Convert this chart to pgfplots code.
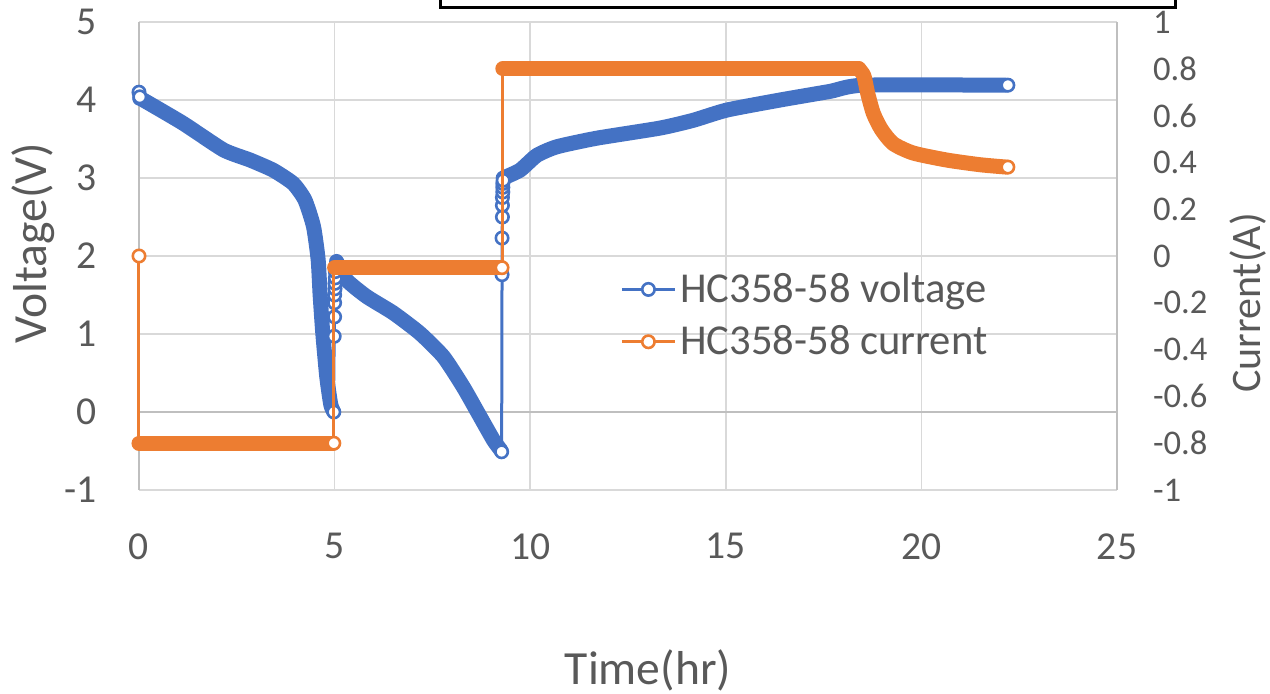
\documentclass[border=0pt]{standalone}
\usepackage{pgfplots}
\pgfplotsset{compat=1.18}
\usepackage{fontspec}
\setmainfont{Carlito}
\definecolor{vblue}{HTML}{4472C4}
\definecolor{corange}{HTML}{ED7D31}
\definecolor{tgray}{HTML}{595959}
\definecolor{ggray}{HTML}{D9D9D9}
\definecolor{agray}{HTML}{BFBFBF}
\pgfplotsset{
  thickband/.style={line width=7.5pt, line cap=round, line join=round, no marks},
  thinline/.style={line width=1.5pt, line join=round, no marks},
  vmarks/.style={only marks, mark=*, mark size=3.1pt, mark options={fill=white, draw=vblue, line width=1.3pt}},
  cmarks/.style={only marks, mark=*, mark size=3.1pt, mark options={fill=white, draw=corange, line width=1.3pt}},
}
\begin{document}
\begin{tikzpicture}
\begin{axis}[
  at={(0,0)}, anchor=south west,
  scale only axis, width=489pt, height=234pt,
  xmin=0, xmax=25, ymin=-1, ymax=5,
  xtick={0,5,10,15,20,25}, xticklabels={0,5,10,15,20,25},
  ytick={-1,0,1,2,3,4,5}, yticklabels={-1,0,1,2,3,4,5},
  grid=major, grid style={ggray, line width=0.75pt},
  axis line style={draw=none}, tick style={draw=none}, major tick length=0pt,
  xticklabel style={font=\fontsize{19.8}{20}\selectfont, text=tgray, anchor=north, inner sep=0pt, yshift=-21.5pt},
  yticklabel style={font=\fontsize{19.8}{20}\selectfont, text=tgray, anchor=east, inner sep=0pt, xshift=-21pt},
  clip=false,
]
\draw[agray, line width=0.75pt] (axis cs:0,-1) -- (axis cs:0,5);
\draw[agray, line width=0.75pt] (axis cs:0,0) -- (axis cs:25,0);
\draw[agray, line width=0.75pt] (axis cs:25,-1) -- (axis cs:25,5);
% thin connecting lines where the points are sparse (voltage)
\addplot[vblue, thinline] coordinates {
(4.97,0.0) (4.99,0.97) (5.0,1.22) (5.0,1.40) (5.01,1.60) (5.03,1.85) (5.05,1.95)};
\addplot[vblue, thinline] coordinates {
(9.27,-0.51) (9.28,1.76) (9.28,2.23) (9.29,2.50) (9.3,2.80) (9.31,3.02)};
% dense parts (voltage)
\addplot[vblue, thickband, smooth, tension=0.35] coordinates {
(0.02,4.02) (0.11,4.00) (1.13,3.70) (2.16,3.36) (2.84,3.23) (3.43,3.10) (3.94,2.93) (4.24,2.72)
(4.46,2.38) (4.58,1.95) (4.63,1.50) (4.70,1.00) (4.80,0.45) (4.90,0.10) (4.96,0.02)};
\addplot[vblue, thickband, smooth, tension=0.35] coordinates {
(5.05,1.93) (5.31,1.69) (5.82,1.48) (6.50,1.27) (7.18,1.01) (7.78,0.71) (8.29,0.32) (8.72,-0.06)
(9.06,-0.36) (9.25,-0.49)};
\addplot[vblue, thickband, smooth, tension=0.35] coordinates {
(9.31,3.00) (9.74,3.10) (10.17,3.29) (10.68,3.40) (11.70,3.51) (13.32,3.64) (14.17,3.74) (15.02,3.87)
(16.39,4.00) (17.66,4.11) (18.52,4.19) (22.15,4.19)};
\addplot[vblue, vmarks] coordinates {
(0,4.10) (0.02,4.04) (4.98,0.0) (4.99,0.97) (5.0,1.22) (5.0,1.40) (5.0,1.50) (5.01,1.58) (5.01,1.65)
(5.02,1.72) (5.02,1.80) (5.03,1.86)
(9.27,-0.51) (9.28,1.76) (9.28,2.23) (9.29,2.50) (9.29,2.65) (9.29,2.75) (9.3,2.82) (9.3,2.88)
(9.3,2.93) (9.31,2.97) (22.21,4.19)};
\end{axis}
\begin{axis}[
  at={(0,0)}, anchor=south west,
  scale only axis, width=489pt, height=234pt,
  xmin=0, xmax=25, ymin=-1, ymax=1,
  axis x line=none, axis y line*=right,
  ytick={-1,-0.8,-0.6,-0.4,-0.2,0,0.2,0.4,0.6,0.8,1},
  yticklabels={-1,-0.8,-0.6,-0.4,-0.2,0,0.2,0.4,0.6,0.8,1},
  axis line style={draw=none}, tick style={draw=none}, major tick length=0pt,
  yticklabel style={font=\fontsize{17.3}{18}\selectfont, text=tgray, anchor=west, inner sep=0pt, xshift=17.8pt},
  clip=false,
  legend style={at={(0.4857,0.3729)}, anchor=west, draw=none, fill=none,
    font=\fontsize{21.3}{22}\selectfont, text=tgray, row sep=6pt},
  legend cell align=left,
  legend image code/.code={\draw[mark repeat=2,mark phase=2,#1] plot coordinates {(0pt,0pt) (13.25pt,0pt) (26.5pt,0pt)};},
]
\addlegendimage{vblue, line width=1.5pt, mark=*, mark size=3.1pt, mark options={fill=white, draw=vblue, line width=1.3pt}}
\addlegendentry{HC358-58 voltage}
\addlegendimage{corange, line width=1.5pt, mark=*, mark size=3.1pt, mark options={fill=white, draw=corange, line width=1.3pt}}
\addlegendentry{HC358-58 current}
\addplot[corange, thinline, forget plot] coordinates {(0,0) (0,-0.8)};
\addplot[corange, thinline, forget plot] coordinates {(4.98,-0.8) (4.98,-0.05)};
\addplot[corange, thinline, forget plot] coordinates {(9.28,-0.05) (9.28,0.8)};
\addplot[corange, thickband, forget plot] coordinates {(0,-0.8) (4.96,-0.8)};
\addplot[corange, thickband, forget plot] coordinates {(5.0,-0.05) (9.26,-0.05)};
\addplot[corange, thickband, forget plot] coordinates {(9.3,0.8) (18.40,0.8)};
\addplot[corange, thickband, smooth, tension=0.4, forget plot] coordinates {
(18.40,0.80) (18.53,0.77) (18.62,0.70) (18.77,0.61) (18.98,0.54) (19.28,0.48) (19.79,0.44)
(20.65,0.41) (21.5,0.39) (22.17,0.38)};
\addplot[corange, cmarks, forget plot] coordinates {(0,0) (4.98,-0.8) (9.28,-0.05) (22.21,0.38)};
\end{axis}
\draw[black, line width=1.5pt] (150.5pt,241pt) rectangle (518pt,262pt);
\node[font=\fontsize{23.8}{24}\selectfont, text=tgray] at (254.5pt,-90pt) {Time(hr)};
\node[font=\fontsize{23.8}{24}\selectfont, text=tgray, rotate=90] at (-53pt,123.5pt) {Voltage(V)};
\node[font=\fontsize{21}{22}\selectfont, text=tgray, rotate=90] at (554.5pt,93.5pt) {Current(A)};
\pgfresetboundingbox
\path[use as bounding box] (-69.5pt,-102pt) rectangle (565.5pt,245pt);
\end{tikzpicture}
\end{document}
